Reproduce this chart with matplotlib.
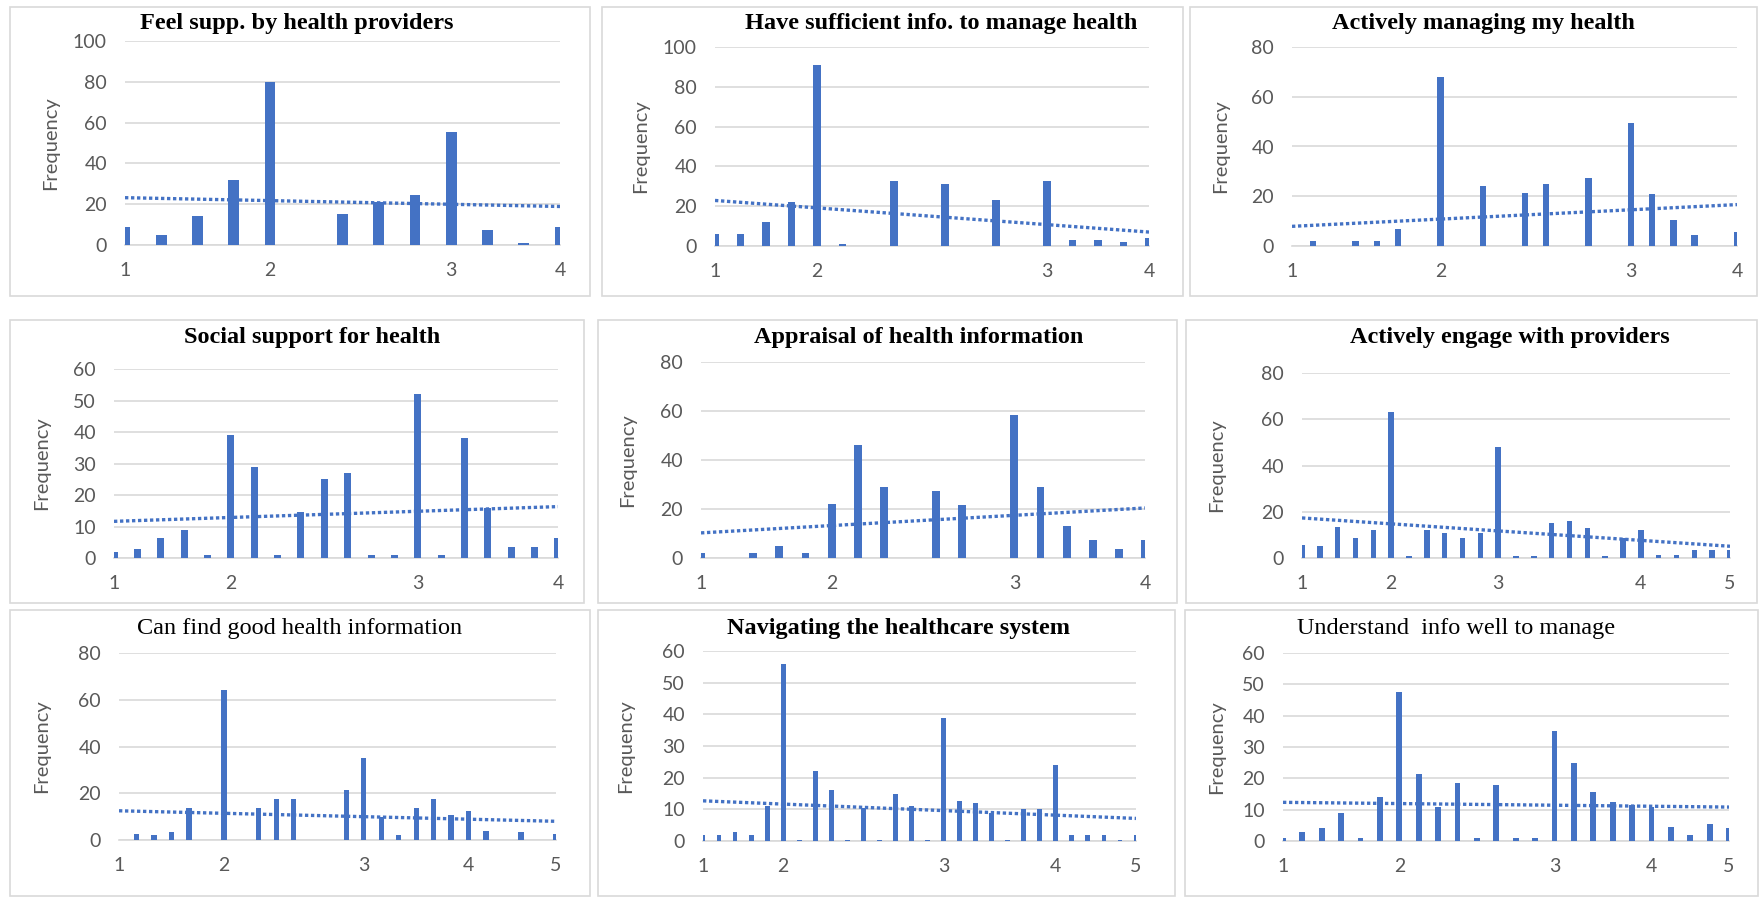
import matplotlib
matplotlib.use("Agg")
import matplotlib.pyplot as plt
from matplotlib.patches import Rectangle
import numpy as np

W, H = 1760, 897
BLUE = "#4472C4"
GRID = "#D9D9D9"
TXT = "#595959"

# ---- data (frequency per score category) ----
p1_vals = [9, 5, 14, 32, 80, 0, 15, 21, 24.5, 55.5, 7.5, 1, 9]
p1_ticks = {0: "1", 4: "2", 9: "3", 12: "4"}

p2_vals = [6, 6, 12, 22, 91, 1, 0, 32.5, 0, 31, 0, 23, 0, 32.5, 3, 3, 2, 4]
p2_ticks = {0: "1", 4: "2", 13: "3", 17: "4"}

p3_vals = [0, 2, 0, 2, 2, 7, 0, 68, 0, 24, 0, 21.5, 25, 0, 27.5, 0, 49.5, 21, 10.5, 4.5, 0, 5.5]
p3_ticks = {0: "1", 7: "2", 16: "3", 21: "4"}

p4_vals = [2, 3, 6.5, 9, 1, 39, 29, 1, 14.5, 25, 27, 1, 1, 52, 1, 38, 16, 3.5, 3.5, 6.5]
p4_ticks = {0: "1", 5: "2", 13: "3", 19: "4"}

p5_vals = [2, 0, 2, 5, 2, 22, 46, 29, 0, 27.5, 21.5, 0, 58.5, 29, 13, 7.5, 3.5, 7.5]
p5_ticks = {0: "1", 5: "2", 12: "3", 17: "4"}

p6_vals = [5.5, 5, 13.5, 8.5, 12, 63, 1, 12, 11, 8.5, 11, 48, 1, 1, 15, 16, 13, 1, 8.5, 12,
           1.5, 1.5, 3.5, 3.5, 3.5]
p6_ticks = {0: "1", 5: "2", 11: "3", 19: "4", 24: "5"}

p7_vals = [0, 2.5, 2, 3.5, 13.5, 0, 64, 0, 13.5, 17.5, 17.5, 0, 0, 21.5, 35, 10, 2, 13.5,
           17.5, 10.5, 12.5, 4, 0, 3.5, 0, 2.5]
p7_ticks = {0: "1", 6: "2", 14: "3", 20: "4", 25: "5"}

p8_vals = [2, 2, 3, 2, 11, 56, 0.4, 22, 16, 0.4, 10.5, 0.4, 15, 11, 0.4, 39, 12.5, 12, 9,
           0.4, 10, 10, 24, 2, 2, 2, 0.4, 2]
p8_ticks = {0: "1", 5: "2", 15: "3", 22: "4", 27: "5"}

p9_vals = [1, 3, 4, 9, 1, 14, 47.5, 21.5, 11, 18.5, 1, 18, 1, 1, 35, 25, 15.5, 12.5, 11.5,
           11, 4.5, 2, 5.5, 4]
p9_ticks = {0: "1", 6: "2", 14: "3", 19: "4", 23: "5"}

titles = ["Feel supp. by health providers", "Have sufficient info. to manage health",
          "Actively managing my health", "Social support for health",
          "Appraisal of health information", "Actively engage with providers",
          "Can find good health information", "Navigating the healthcare system",
          "Understand  info well to manage"]
bold = [True, True, True, True, True, True, False, True, False]
values = [p1_vals, p2_vals, p3_vals, p4_vals, p5_vals, p6_vals, p7_vals, p8_vals, p9_vals]
xticks = [p1_ticks, p2_ticks, p3_ticks, p4_ticks, p5_ticks, p6_ticks, p7_ticks, p8_ticks, p9_ticks]
ymax = [100, 100, 80, 60, 80, 80, 80, 60, 60]
ystep = [20, 20, 20, 10, 20, 20, 20, 10, 10]

# ---- layout in pixels (x0, y0, x1, y1), y measured from top ----
frames = [(10, 7, 590, 296), (602, 7, 1183, 296), (1190, 7, 1757, 296),
          (10, 320, 584, 603), (598, 320, 1177, 603), (1186, 320, 1757, 603),
          (10, 610, 590, 896), (598, 610, 1175, 896), (1185, 610, 1758, 896)]
plots = [(125, 41, 560, 245), (715, 47, 1149, 246), (1292, 47, 1737, 246),
         (114, 369, 558, 558), (701, 362, 1145, 558), (1302, 373, 1730, 558),
         (119, 653, 556, 840), (703, 651, 1136, 841), (1283, 653, 1729, 841)]
title_pos = [(297, 23), (941, 23), (1483, 23), (312, 337), (919, 337), (1510, 338),
             (300, 628), (898, 628), (1456, 628)]
ylab_x = [51, 641, 1221, 42, 628, 1217, 42, 626, 1217]

fig = plt.figure(figsize=(W / 100, H / 100), dpi=100)
fig.patch.set_facecolor("white")

for i in range(9):
    fx0, fy0, fx1, fy1 = frames[i]
    fig.patches.append(Rectangle((fx0 / W, 1 - fy1 / H), (fx1 - fx0) / W, (fy1 - fy0) / H,
                                 transform=fig.transFigure, fill=False,
                                 edgecolor=GRID, linewidth=1.2))

    x0, y0, x1, y1 = plots[i]
    ax = fig.add_axes([x0 / W, 1 - y1 / H, (x1 - x0) / W, (y1 - y0) / H])
    vals = np.array(values[i], dtype=float)
    idx = np.arange(len(vals))
    ax.bar(idx, vals, width=0.3, color=BLUE, zorder=3)

    # linear trendline, as Excel draws it over the categories
    k, b = np.polyfit(idx, vals, 1)
    ax.plot([0, len(vals) - 1], [b, k * (len(vals) - 1) + b], color=BLUE,
            linestyle=(0, (1, 0.8)), linewidth=2.4, zorder=4)

    ax.set_xlim(0, len(vals) - 1)
    ax.set_ylim(0, ymax[i])
    ax.set_yticks(np.arange(0, ymax[i] + 1, ystep[i]))
    ax.set_xticks(list(xticks[i].keys()))
    ax.set_xticklabels(list(xticks[i].values()))
    ax.grid(axis="y", color=GRID, linewidth=1.2, zorder=0)
    ax.set_axisbelow(True)
    for s in ["top", "right", "left"]:
        ax.spines[s].set_visible(False)
    ax.spines["bottom"].set_color(GRID)
    ax.spines["bottom"].set_linewidth(1.2)
    ax.tick_params(length=0, colors=TXT, labelsize=14)
    ax.tick_params(axis="y", pad=13)
    ax.tick_params(axis="x", pad=12)
    for lab in ax.get_xticklabels() + ax.get_yticklabels():
        lab.set_family("Lato")
    ax.patch.set_alpha(0)

    tx, ty = title_pos[i]
    fig.text(tx / W, 1 - ty / H, titles[i], ha="center", va="center",
             family="Liberation Serif", fontsize=17.5,
             fontweight="bold" if bold[i] else "normal", color="black")
    fig.text(ylab_x[i] / W, 1 - (y0 + y1) / 2 / H, "Frequency", rotation=90,
             ha="center", va="center", family="Lato", fontsize=14.5, color=TXT)

fig.savefig("out.png", dpi=100, facecolor="white")
